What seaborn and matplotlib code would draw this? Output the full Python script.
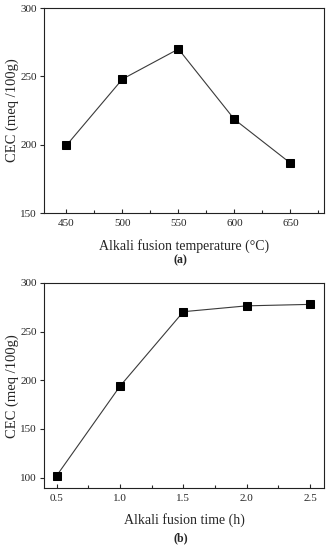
import matplotlib
matplotlib.use("Agg")
import matplotlib.pyplot as plt
import seaborn as sns
import pandas as pd
from matplotlib.ticker import MultipleLocator

temps = [450, 500, 550, 600, 650]
cec_temp = [199.5, 248, 270, 218.5, 186.5]
times = [0.5, 1.0, 1.5, 2.0, 2.5]
cec_time = [102, 194, 270.5, 276.5, 278]

sns.set_style("white")
plt.rcParams['font.family'] = ['Liberation Serif', 'DejaVu Serif']

fig = plt.figure(figsize=(3.31, 5.5), dpi=100)
ax1 = fig.add_axes([0.133, 0.6127, 0.846, 0.3727])
ax2 = fig.add_axes([0.133, 0.1122, 0.846, 0.3733])

df1 = pd.DataFrame({"x": temps, "y": cec_temp})
df2 = pd.DataFrame({"x": times, "y": cec_time})

for ax, df in [(ax1, df1), (ax2, df2)]:
    sns.lineplot(data=df, x="x", y="y", ax=ax, color="#3a3a3a", linewidth=0.8,
                 marker="s", markersize=5.5, markerfacecolor="black",
                 markeredgecolor="black")
    for s in ax.spines.values():
        s.set_color("#222222")
        s.set_linewidth(0.8)

ax1.set_xlim(430, 680)
ax1.set_ylim(150, 300)
ax1.set_xticks([450, 500, 550, 600, 650])
ax1.xaxis.set_minor_locator(MultipleLocator(25))
ax1.set_yticks([150, 200, 250, 300])

ax2.set_xlim(0.4, 2.61)
ax2.set_ylim(89, 300)
ax2.set_xticks([0.5, 1.0, 1.5, 2.0, 2.5])
ax2.xaxis.set_minor_locator(MultipleLocator(0.25))
ax2.set_yticks([100, 150, 200, 250, 300])

for ax in (ax1, ax2):
    ax.tick_params(axis="x", which="major", direction="in", length=3, width=0.8,
                   labelsize=8, pad=4, bottom=True, top=False)
    ax.tick_params(axis="x", which="minor", direction="in", length=2, width=0.8,
                   bottom=True, top=False)
    ax.tick_params(axis="y", which="major", direction="out", length=3, width=0.8,
                   labelsize=8, pad=2, left=True, right=False)
    ax.set_ylabel("CEC (meq /100g)", fontsize=10.5, labelpad=1)

ax1.set_xlabel("Alkali fusion temperature (\u00b0C)", fontsize=10, labelpad=8)
ax2.set_xlabel("Alkali fusion time (h)", fontsize=10, labelpad=7)

fig.text(0.545, 1 - 260 / 550, "(a)", ha="center", va="center", fontsize=8.5, fontweight="bold")
fig.text(0.545, 1 - 538 / 550, "(b)", ha="center", va="center", fontsize=8.5, fontweight="bold")

fig.savefig("out.png", dpi=100)
